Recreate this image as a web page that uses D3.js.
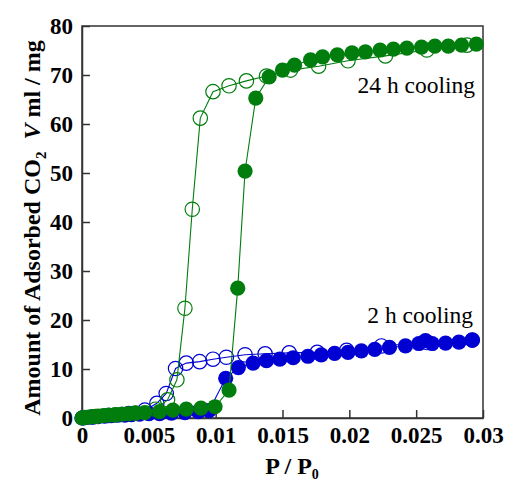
<!DOCTYPE html>
<html>
<head>
<meta charset="utf-8">
<script src="https://cdn.jsdelivr.net/npm/d3@7"></script>
<style>
  body { margin: 0; background: #fff; }
</style>
</head>
<body>
<svg id="chart" width="507" height="483"></svg>
<script>
// P/P0 vs adsorbed amount
const ads24h = [[0, 0], [0.0002, 0.1], [0.0005, 0.2], [0.0008, 0.3], [0.0012, 0.4], [0.0016, 0.5],
  [0.002, 0.6], [0.0025, 0.7], [0.003, 0.8], [0.0035, 0.9], [0.004, 1.0], [0.0047, 1.1],
  [0.0058, 1.3], [0.0068, 1.6], [0.0078, 1.8], [0.0089, 2.0], [0.00995, 2.3], [0.011, 5.7],
  [0.01165, 26.5], [0.0122, 50.4], [0.013, 65.3], [0.014, 69.6], [0.015, 71.0], [0.0159, 72.0],
  [0.0171, 73.1], [0.018, 73.7], [0.0191, 74.1], [0.0202, 74.5], [0.0212, 74.7], [0.0223, 75.1],
  [0.0233, 75.3], [0.0243, 75.5], [0.0254, 75.7], [0.0264, 75.9], [0.0274, 75.9], [0.0284, 76.1],
  [0.0295, 76.3]]

const des24h = [[0.0288, 76.1], [0.0258, 75.1], [0.0227, 73.9], [0.0199, 72.9], [0.0177, 71.8],
  [0.0156, 71.0], [0.0138, 69.8], [0.0123, 68.8], [0.011, 67.8], [0.0098, 66.6], [0.00885, 61.2],
  [0.00825, 42.6], [0.0077, 22.4], [0.0071, 7.8], [0.0064, 3.7], [0.0055, 1.8], [0.004, 1.0],
  [0.0025, 0.6], [0.001, 0.3], [0.0002, 0.1]]

const ads2h = [[0, 0], [0.0003, 0.1], [0.0007, 0.2], [0.0012, 0.3], [0.0017, 0.4], [0.0022, 0.5],
  [0.0027, 0.6], [0.0032, 0.6], [0.0037, 0.7], [0.0043, 0.8], [0.005, 0.9], [0.0058, 0.9],
  [0.0067, 1.0], [0.0077, 1.1], [0.0087, 1.3], [0.0095, 1.5], [0.01075, 8.1], [0.0117, 10.3],
  [0.0128, 11.2], [0.0138, 11.7], [0.0148, 12.0], [0.0158, 12.3], [0.0169, 12.6], [0.0179, 12.9],
  [0.0189, 13.2], [0.0199, 13.4], [0.0209, 13.7], [0.0219, 14.0], [0.023, 14.4], [0.0242, 14.7],
  [0.0252, 15.2], [0.0257, 15.8], [0.0262, 15.2], [0.0272, 15.3], [0.0282, 15.5], [0.0292, 15.9]]

const des2h = [[0.0292, 15.9], [0.0258, 15.4], [0.0224, 14.7], [0.0198, 13.8], [0.0176, 13.4],
  [0.0155, 13.3], [0.0137, 13.1], [0.0122, 12.9], [0.0108, 12.4], [0.0098, 12.0], [0.0088, 11.5],
  [0.0078, 11.2], [0.007, 10.1], [0.0063, 5.0], [0.0056, 3.0], [0.0047, 1.6], [0.0035, 0.9],
  [0.002, 0.5], [0.0008, 0.2], [0.0001, 0.05]]

const xTicks = [0, 0.005, 0.01, 0.015, 0.02, 0.025, 0.03]
const yTicks = [0, 10, 20, 30, 40, 50, 60, 70, 80]

const GREEN = '#007d0c'
const BLUE = '#0000d2'
const FONT = '"Liberation Serif", "Times New Roman", Times, serif'

const margin = { left: 82, top: 26 }
const width = 401
const height = 392

const svg = d3.select('#chart')
const g = svg.append('g').attr('transform', `translate(${margin.left},${margin.top})`)

const x = d3.scaleLinear().domain([0, 0.03]).range([0, width])
const y = d3.scaleLinear().domain([0, 80]).range([height, 0])

// frame (top and right sides)
g.append('rect')
  .attr('width', width)
  .attr('height', height)
  .attr('fill', 'none')
  .attr('stroke', '#333')
  .attr('stroke-width', 1.5)

const xAxis = g.append('g')
  .attr('transform', `translate(0,${height})`)
  .call(d3.axisBottom(x).tickValues(xTicks).tickSizeInner(-8).tickSizeOuter(0).tickPadding(9)
    .tickFormat(d => d === 0 ? '0' : String(+d.toFixed(3))))

const yAxis = g.append('g')
  .call(d3.axisLeft(y).tickValues(yTicks).tickSizeInner(-8).tickSizeOuter(0).tickPadding(9))

for (const ax of [xAxis, yAxis]) {
  ax.attr('font-family', FONT).attr('font-size', 23).attr('font-weight', 'bold')
  ax.selectAll('path, line').attr('stroke', '#333').attr('stroke-width', 1.5)
  ax.selectAll('text').attr('fill', '#000')
}

const line = d3.line().x(d => x(d[0])).y(d => y(d[1]))

/**
 * Draws one isotherm branch: thin line plus circle markers.
 */
function drawBranch (data, color, filled) {
  g.append('path')
    .datum(data)
    .attr('d', line)
    .attr('fill', 'none')
    .attr('stroke', color)
    .attr('stroke-width', 1.1)

  g.append('g')
    .selectAll('circle')
    .data(data)
    .enter()
    .append('circle')
    .attr('cx', d => x(d[0]))
    .attr('cy', d => y(d[1]))
    .attr('r', filled ? 7.6 : 7.2)
    .attr('fill', filled ? color : 'none')
    .attr('stroke', color)
    .attr('stroke-width', filled ? 0 : 1.2)
}

drawBranch(des2h, BLUE, false)
drawBranch(ads2h, BLUE, true)
drawBranch(des24h, GREEN, false)
drawBranch(ads24h, GREEN, true)

// annotations
g.append('text')
  .attr('x', 393)
  .attr('y', 67)
  .attr('text-anchor', 'end')
  .attr('font-family', FONT)
  .attr('font-size', 23.5)
  .text('24 h cooling')

g.append('text')
  .attr('x', 391)
  .attr('y', 297)
  .attr('text-anchor', 'end')
  .attr('font-family', FONT)
  .attr('font-size', 23.5)
  .text('2 h cooling')

// x axis title
const xt = svg.append('text')
  .attr('x', 292)
  .attr('y', 474)
  .attr('text-anchor', 'middle')
  .attr('font-family', FONT)
  .attr('font-weight', 'bold')
  .attr('font-size', 24)
xt.append('tspan').text('P / P')
xt.append('tspan').attr('dy', 5).attr('font-size', 14).text('0')

// y axis title
const yt = svg.append('text')
  .attr('transform', 'translate(40,228) rotate(-90)')
  .attr('text-anchor', 'middle')
  .attr('font-family', FONT)
  .attr('font-weight', 'bold')
  .attr('font-size', 24)
yt.append('tspan').text('Amount of Adsorbed CO')
yt.append('tspan').attr('dy', 6).attr('font-size', 15).text('2')
yt.append('tspan').attr('dy', -6).text('\u00a0\u00a0')
yt.append('tspan').attr('font-style', 'italic').text('V')
yt.append('tspan').text(' ml / mg')
</script>
</body>
</html>
